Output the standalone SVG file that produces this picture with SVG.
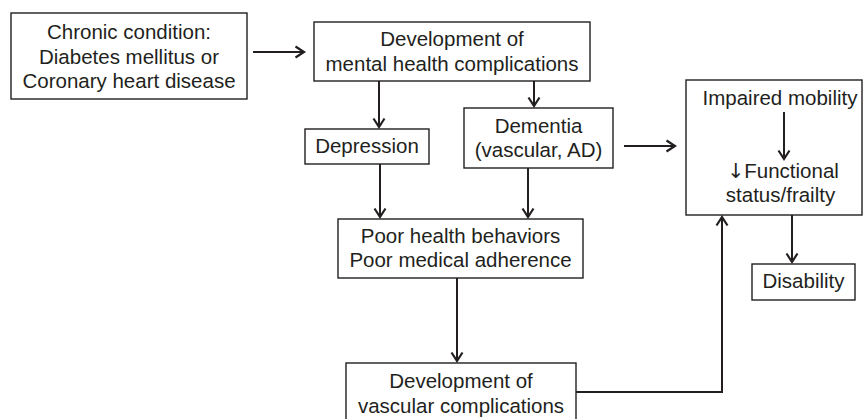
<svg xmlns="http://www.w3.org/2000/svg" width="863" height="419" viewBox="0 0 863 419">
<style>
.box{fill:#fff;stroke:#231f20;stroke-width:1.4}
.t{font-family:"Liberation Sans",Arial,sans-serif;font-size:20.5px;fill:#231f20;text-anchor:middle}
.ar{font-family:"DejaVu Sans","Liberation Sans",sans-serif}
.c{fill:none;stroke:#231f20;stroke-width:2}
</style>
<defs>
<marker id="ah" markerUnits="userSpaceOnUse" markerWidth="14" markerHeight="14" viewBox="-10 -7 12 14" refX="0" refY="0" orient="auto">
<path d="M-8.5,-5.5 L0,0 L-8.5,5.5" fill="none" stroke="#231f20" stroke-width="2.2"/>
</marker>
</defs>
<rect width="863" height="419" fill="#fff"/>
<g id="chronic">
<rect class="box" x="11" y="13" width="236" height="86"/>
<text class="t" x="129" y="39">Chronic condition:</text>
<text class="t" x="129" y="64">Diabetes mellitus or</text>
<text class="t" x="129" y="88">Coronary heart disease</text>
</g>
<g id="mental">
<rect class="box" x="314" y="22" width="276" height="59"/>
<text class="t" x="452" y="46">Development of</text>
<text class="t" x="452" y="71">mental health complications</text>
</g>
<g id="depression">
<rect class="box" x="305" y="129" width="124" height="35"/>
<text class="t" x="367" y="153">Depression</text>
</g>
<g id="dementia">
<rect class="box" x="464" y="108" width="149" height="60"/>
<text class="t" x="538.5" y="133">Dementia</text>
<text class="t" x="538.5" y="157">(vascular, AD)</text>
</g>
<g id="behaviors">
<rect class="box" x="338" y="219" width="245" height="59"/>
<text class="t" x="460.5" y="243">Poor health behaviors</text>
<text class="t" x="460.5" y="267">Poor medical adherence</text>
</g>
<g id="vascular">
<rect class="box" x="346" y="363" width="230" height="58"/>
<text class="t" x="461" y="388">Development of</text>
<text class="t" x="461" y="413">vascular complications</text>
</g>
<g id="functional">
<rect class="box" x="686" y="80" width="176" height="135"/>
<text class="t" x="780" y="105">Impaired mobility</text>
<text class="t" x="783" y="178"><tspan class="ar">↓</tspan>Functional</text>
<text class="t" x="780.5" y="202">status/frailty</text>
</g>
<g id="disability">
<rect class="box" x="752" y="264" width="103" height="36"/>
<text class="t" x="803.5" y="288">Disability</text>
</g>
<g id="connectors">
<line class="c" x1="253" y1="52" x2="304" y2="52" marker-end="url(#ah)"/>
<line class="c" x1="379" y1="81" x2="379" y2="127" marker-end="url(#ah)"/>
<line class="c" x1="534" y1="81" x2="534" y2="106" marker-end="url(#ah)"/>
<line class="c" x1="380" y1="164" x2="380" y2="217" marker-end="url(#ah)"/>
<line class="c" x1="528" y1="168" x2="528" y2="217" marker-end="url(#ah)"/>
<line class="c" x1="457" y1="278" x2="457" y2="361" marker-end="url(#ah)"/>
<line class="c" x1="624" y1="146" x2="675" y2="146" marker-end="url(#ah)"/>
<polyline class="c" points="576,392 722,392 722,217" marker-end="url(#ah)"/>
<line class="c" x1="784" y1="112" x2="784" y2="159" marker-end="url(#ah)"/>
<line class="c" x1="792" y1="215" x2="792" y2="262" marker-end="url(#ah)"/>
</g>
</svg>
